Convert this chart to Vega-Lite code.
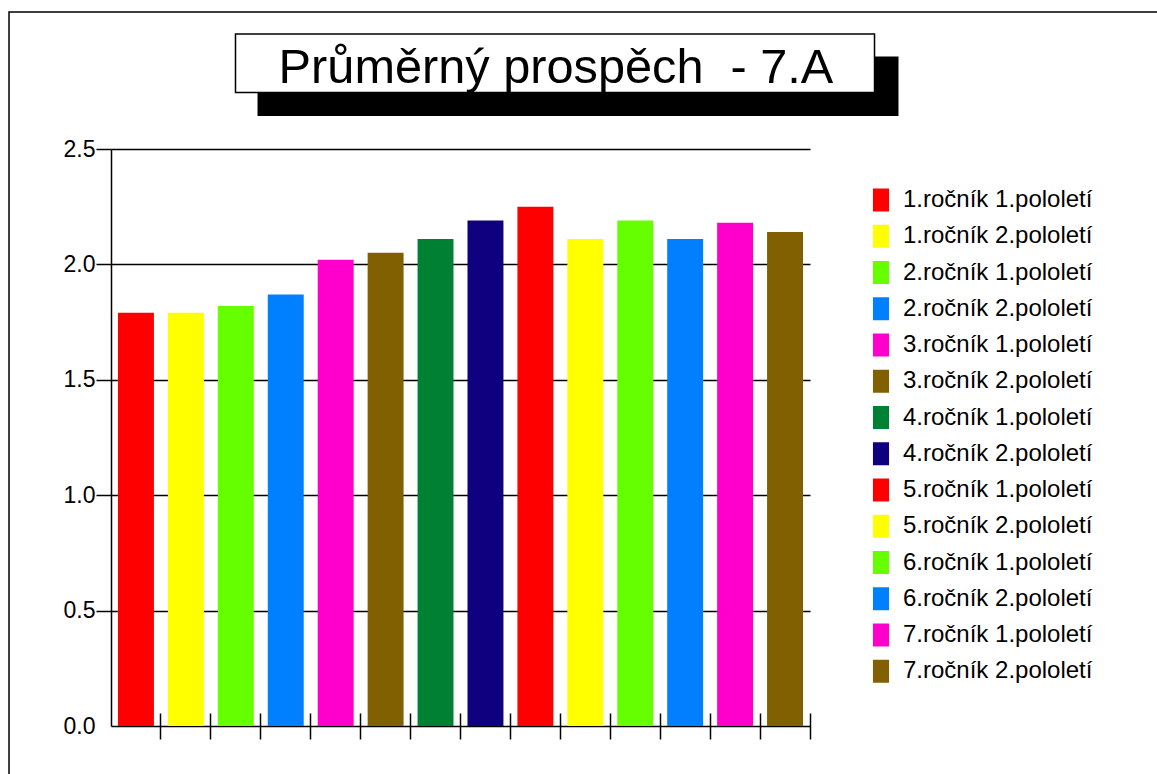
{
  "$schema": "https://vega.github.io/schema/vega-lite/v6.json",
  "autosize": {"type": "none"},
  "padding": {"left": 111, "top": 149, "right": 347, "bottom": 48},
  "width": 699,
  "height": 577,
  "background": "white",
  "config": {
    "view": {"stroke": null},
    "font": "Liberation Sans",
    "axis": {
      "domainColor": "black",
      "tickColor": "black",
      "gridColor": "black",
      "labelColor": "black",
      "labelFont": "Liberation Sans",
      "domainWidth": 1.5,
      "tickWidth": 1.5,
      "gridWidth": 1.5,
      "gridOpacity": 1
    },
    "legend": {
      "labelFont": "Liberation Sans",
      "labelColor": "black"
    }
  },
  "data": {
    "values": [
      {"obdobi": "1.ročník 1.pololetí", "prospech": 1.79},
      {"obdobi": "1.ročník 2.pololetí", "prospech": 1.79},
      {"obdobi": "2.ročník 1.pololetí", "prospech": 1.82},
      {"obdobi": "2.ročník 2.pololetí", "prospech": 1.87},
      {"obdobi": "3.ročník 1.pololetí", "prospech": 2.02},
      {"obdobi": "3.ročník 2.pololetí", "prospech": 2.05},
      {"obdobi": "4.ročník 1.pololetí", "prospech": 2.11},
      {"obdobi": "4.ročník 2.pololetí", "prospech": 2.19},
      {"obdobi": "5.ročník 1.pololetí", "prospech": 2.25},
      {"obdobi": "5.ročník 2.pololetí", "prospech": 2.11},
      {"obdobi": "6.ročník 1.pololetí", "prospech": 2.19},
      {"obdobi": "6.ročník 2.pololetí", "prospech": 2.11},
      {"obdobi": "7.ročník 1.pololetí", "prospech": 2.18},
      {"obdobi": "7.ročník 2.pololetí", "prospech": 2.14}
    ]
  },
  "layer": [
    {
      "data": {"values": [{"prvek": "dekorace"}]},
      "layer": [
        {
          "mark": {"type": "rect", "filled": false, "color": "black", "strokeWidth": 1.5},
          "encoding": {
            "x": {"datum": -0.1459, "type": "quantitative", "scale": {"domain": [0, 1], "nice": false, "zero": false}, "axis": null},
            "x2": {"datum": 1.6},
            "y": {"datum": 1.2374, "type": "quantitative", "scale": {"domain": [0, 1], "nice": false, "zero": false}, "axis": null},
            "y2": {"datum": -0.3}
          }
        },
        {
          "mark": {"type": "rect", "color": "black"},
          "encoding": {
            "x": {"datum": 0.2096, "type": "quantitative"},
            "x2": {"datum": 1.1266},
            "y": {"datum": 1.1603, "type": "quantitative"},
            "y2": {"datum": 1.0572}
          }
        },
        {
          "mark": {"type": "rect", "fill": "white", "stroke": "black", "strokeWidth": 1.5},
          "encoding": {
            "x": {"datum": 0.1781, "type": "quantitative"},
            "x2": {"datum": 1.0923},
            "y": {"datum": 1.1993, "type": "quantitative"},
            "y2": {"datum": 1.0979}
          }
        },
        {
          "mark": {"type": "text", "font": "Liberation Sans", "fontSize": 48.7, "color": "black", "align": "center", "baseline": "alphabetic", "text": "Průměrný prospěch\u00a0 - 7.A"},
          "encoding": {
            "x": {"datum": 0.6366, "type": "quantitative"},
            "y": {"datum": 1.1144, "type": "quantitative"}
          }
        }
      ]
    },
    {
      "mark": {"type": "bar", "width": {"band": 0.72}},
      "encoding": {
        "x": {
          "field": "obdobi",
          "type": "nominal",
          "sort": null,
          "scale": {"paddingInner": 0, "paddingOuter": 0},
          "axis": {
            "orient": "bottom",
            "title": null,
            "labels": false,
            "domain": false,
            "ticks": true,
            "tickSize": 26,
            "offset": -13,
            "bandPosition": 1,
            "grid": false
          }
        },
        "y": {
          "field": "prospech",
          "type": "quantitative",
          "scale": {"domain": [0, 2.5], "nice": false},
          "axis": {
            "orient": "left",
            "title": null,
            "values": [0, 0.5, 1, 1.5, 2, 2.5],
            "format": ".1f",
            "grid": true,
            "tickSize": 15,
            "labelPadding": 1,
            "labelFontSize": 23,
            "tickOpacity": {"condition": {"test": "datum.value === 0", "value": 0}, "value": 1}
          }
        },
        "color": {
          "field": "obdobi",
          "type": "nominal",
          "scale": {
            "domain": [
              "1.ročník 1.pololetí", "1.ročník 2.pololetí",
              "2.ročník 1.pololetí", "2.ročník 2.pololetí",
              "3.ročník 1.pololetí", "3.ročník 2.pololetí",
              "4.ročník 1.pololetí", "4.ročník 2.pololetí",
              "5.ročník 1.pololetí", "5.ročník 2.pololetí",
              "6.ročník 1.pololetí", "6.ročník 2.pololetí",
              "7.ročník 1.pololetí", "7.ročník 2.pololetí"
            ],
            "range": [
              "#FF0000", "#FFFF00", "#66FF00", "#0080FF", "#FF00CC", "#806000", "#008033",
              "#0F007F", "#FF0000", "#FFFF00", "#66FF00", "#0080FF", "#FF00CC", "#806000"
            ]
          },
          "legend": {
            "title": null,
            "orient": "none",
            "legendX": 758,
            "legendY": 39,
            "padding": 0,
            "symbolType": "M-0.7,-1H0.7V1H-0.7Z",
            "symbolSize": 529,
            "symbolStrokeWidth": 0,
            "labelFontSize": 24,
            "labelOffset": 10,
            "rowPadding": 12.25,
            "labelLimit": 400
          }
        }
      }
    }
  ],
  "resolve": {"scale": {"x": "independent", "y": "independent", "color": "independent"}}
}
